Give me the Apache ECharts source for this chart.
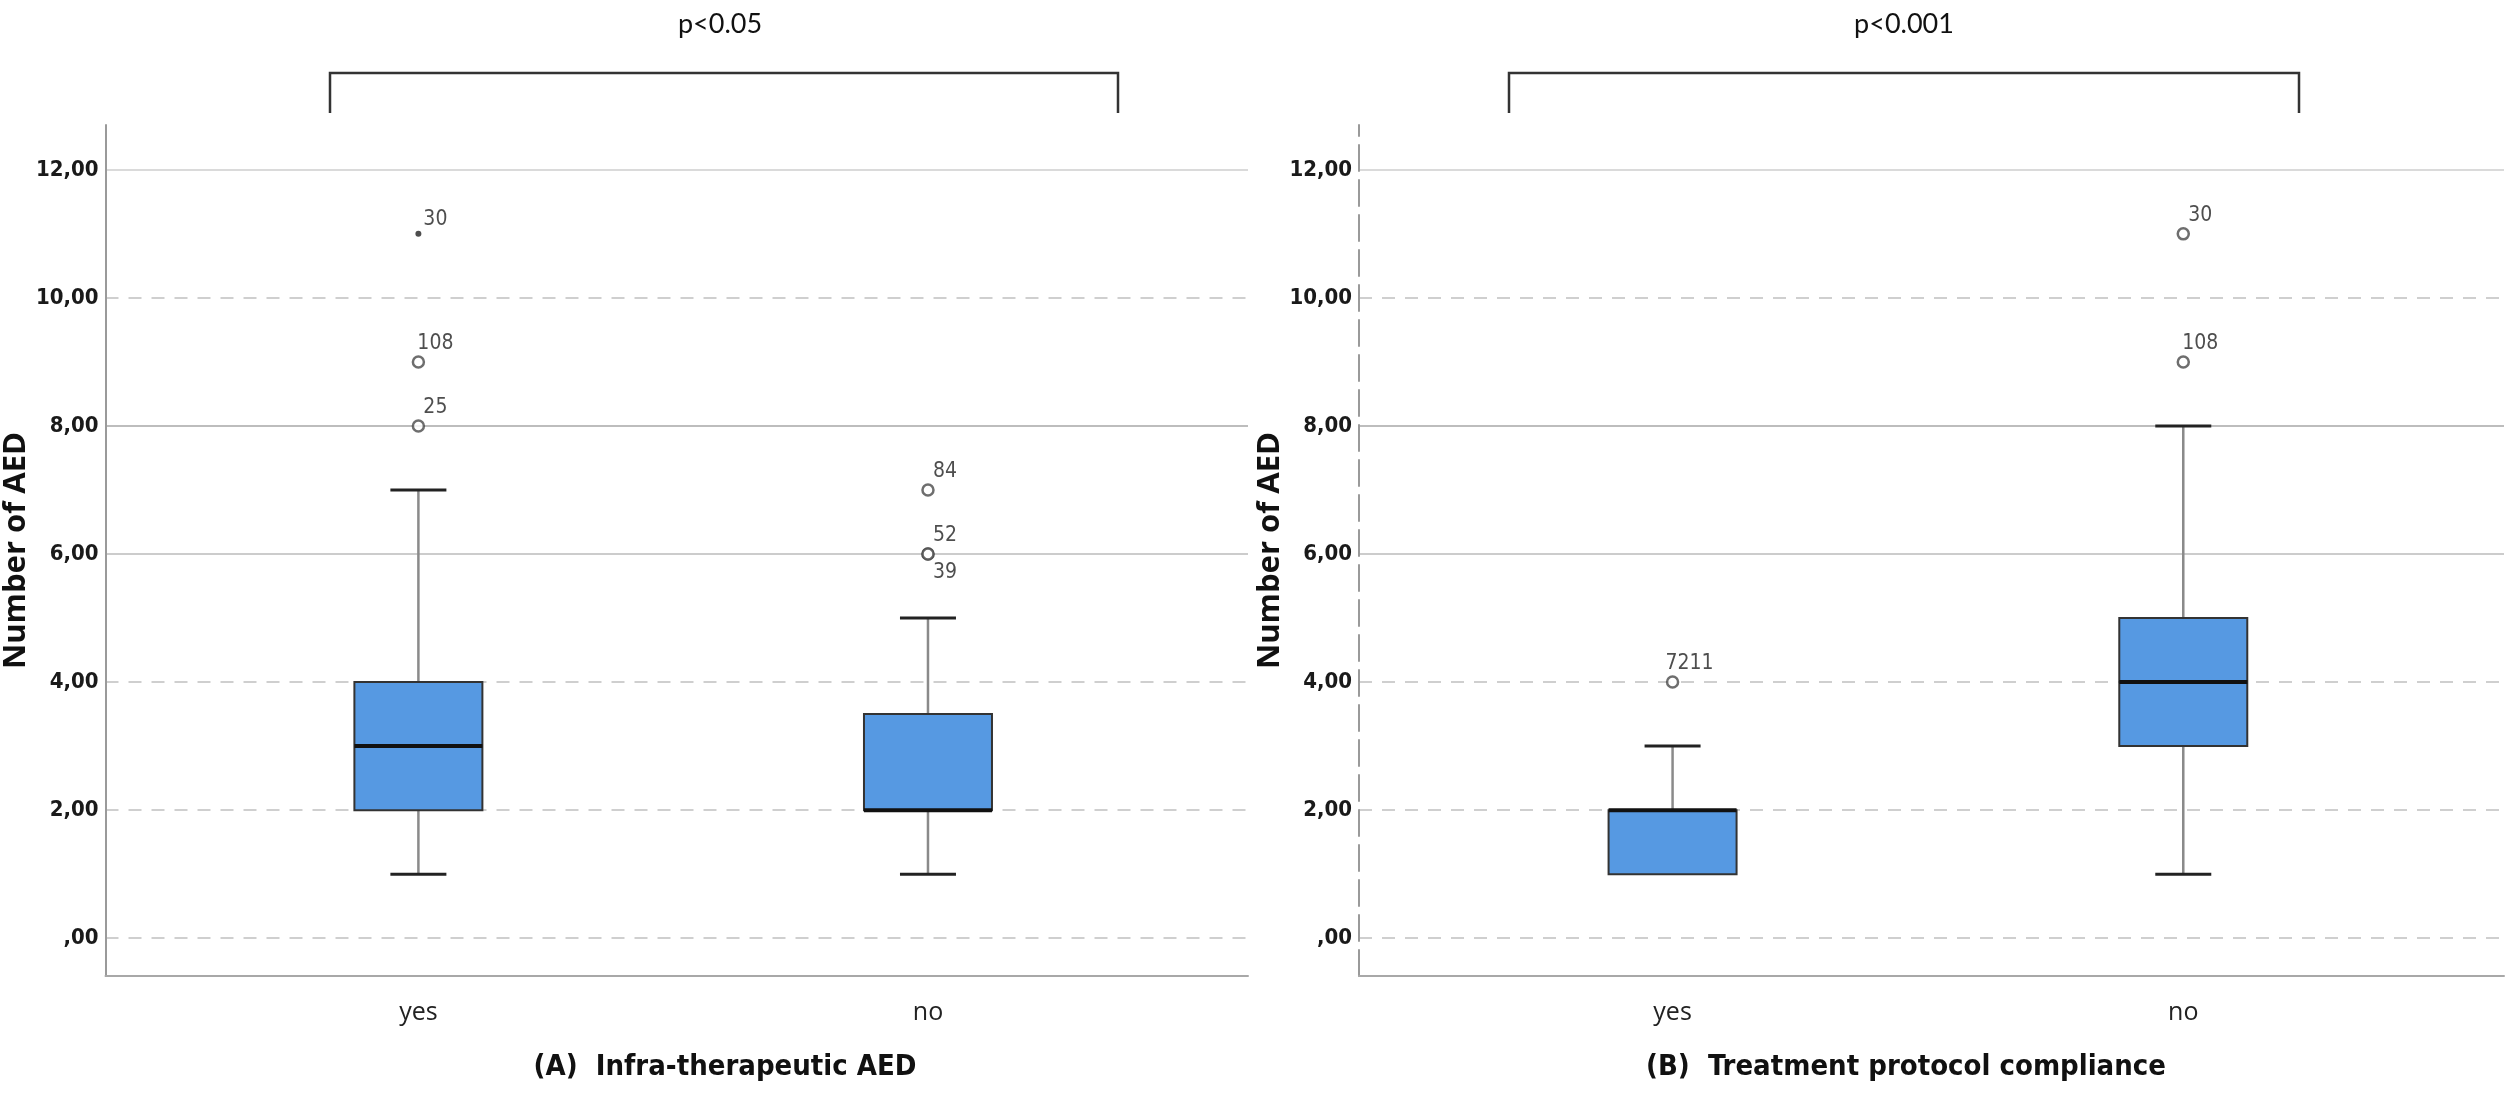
<!DOCTYPE html>
<html>
<head>
<meta charset="utf-8">
<script src="https://cdn.jsdelivr.net/npm/echarts@6/dist/echarts.min.js"></script>
<style>html,body{margin:0;padding:0;background:#fff}#c{width:2507px;height:1096px}</style>
</head>
<body>
<div id="c"></div>
<script>
// ---- data ----
const categories = ['yes', 'no'];
// [min, Q1, median, Q3, max]
const boxA = [[1, 2, 3, 4, 7], [1, 2, 2, 3.5, 5]];
const boxB = [[1, 1, 2, 2, 3], [1, 3, 4, 5, 8]];
// [category index, value, case label]
const outliersA = [[0, 8, '25'], [0, 9, '108'], [0, 11, '30'], [1, 6, '52'], [1, 6, '39'], [1, 7, '84']];
const outliersB = [[0, 4, '7211'], [1, 9, '108'], [1, 11, '30']];
const yTicks = [0, 2, 4, 6, 8, 10, 12];
const yTickLabels = [',00', '2,00', '4,00', '6,00', '8,00', '10,00', '12,00'];
const pValues = ['p<0.05', 'p<0.001'];
const captions = ['(A)  Infra-therapeutic AED', '(B)  Treatment protocol compliance'];
const yAxisTitle = 'Number of AED';

// ---- styling helpers ----
const NARROW = "'Liberation Sans Narrow','DejaVu Sans Condensed',sans-serif";
const gridTypes = ['dashed', 'dashed', 'dashed', 'solid', 'solid', 'dashed', 'solid'];
const gridColors = ['#cfcfcf', '#cfcfcf', '#cfcfcf', '#cccccc', '#bdbdbd', '#cfcfcf', '#dadada'];

function boxRenderer(params, api) {
  const i = api.value(0);
  const mn = api.value(1), q1 = api.value(2), md = api.value(3), q3 = api.value(4), mx = api.value(5);
  const X = api.coord([i, md])[0];
  const Y = v => api.coord([i, v])[1];
  const hw = 64, cap = 28;
  const ch = [];
  if (mx > q3) ch.push({type: 'line', shape: {x1: X, y1: Y(mx), x2: X, y2: Y(q3)}, style: {stroke: '#8a8a8a', lineWidth: 2.5}});
  if (mn < q1) ch.push({type: 'line', shape: {x1: X, y1: Y(q1), x2: X, y2: Y(mn)}, style: {stroke: '#8a8a8a', lineWidth: 2.5}});
  if (mx > q3) ch.push({type: 'line', shape: {x1: X - cap, y1: Y(mx), x2: X + cap, y2: Y(mx)}, style: {stroke: '#222', lineWidth: 3}});
  if (mn < q1) ch.push({type: 'line', shape: {x1: X - cap, y1: Y(mn), x2: X + cap, y2: Y(mn)}, style: {stroke: '#222', lineWidth: 3}});
  ch.push({type: 'rect', shape: {x: X - hw, y: Y(q3), width: 2 * hw, height: Y(q1) - Y(q3)}, style: {fill: '#5699e2', stroke: '#333', lineWidth: 2}});
  ch.push({type: 'line', shape: {x1: X - hw, y1: Y(md), x2: X + hw, y2: Y(md)}, style: {stroke: '#111', lineWidth: 4}});
  return {type: 'group', children: ch};
}

function outlierData(outs, boxes) {
  const seen = {};
  return outs.map(o => {
    const b = boxes[o[0]];
    const iqr = b[3] - b[1];
    const extreme = o[1] > b[3] + 3 * iqr;
    const key = o[0] + '_' + o[1];
    const below = !!seen[key];
    seen[key] = true;
    const item = {value: [o[0], o[1]], name: o[2],
      label: {show: true, formatter: o[2], position: below ? 'bottom' : 'top', distance: 1, offset: [17, 0],
        fontSize: 21, color: '#222', fontFamily: NARROW}};
    if (extreme) {
      item.symbol = 'circle'; item.symbolSize = 6;
      item.itemStyle = {color: '#222', borderWidth: 0};
    }
    return item;
  });
}

function gridMarkLines() {
  return {
    silent: true, z: 0, symbol: ['none', 'none'], label: {show: false},
    data: yTicks.map((v, k) => ({yAxis: v, lineStyle: {type: gridTypes[k] === 'dashed' ? [13, 10] : 'solid', color: gridColors[k], width: 2}}))
  };
}

const grids = [
  {left: 104, top: 125, width: 1144, height: 851},
  {left: 1359, top: 125, width: 1145, height: 851}
];

const xAxes = [0, 1].map(g => ({
  gridIndex: g, type: 'value', min: -0.614, max: 1.628,
  axisLine: {show: true, onZero: false, lineStyle: {color: '#a8a8a8', width: 2}},
  axisTick: {show: false}, splitLine: {show: false},
  axisLabel: {customValues: [0, 1], formatter: v => categories[Math.round(v)], margin: 24,
    fontSize: 25, color: '#222', fontFamily: "'Open Sans',sans-serif"}
}));

const yAxes = [0, 1].map(g => ({
  gridIndex: g, type: 'value', min: -0.59, max: 12.7,
  axisLine: {show: true, onZero: false, lineStyle: {color: '#9a9a9a', width: 2, type: g === 1 ? [26, 9] : 'solid'}},
  axisTick: {show: false}, splitLine: {show: false},
  axisLabel: {customValues: yTicks, formatter: v => yTickLabels[yTicks.indexOf(v)], margin: 7,
    fontSize: 22, fontWeight: 'bold', color: '#1a1a1a', fontFamily: NARROW},
  name: yAxisTitle, nameLocation: 'middle', nameGap: 56,
  nameTextStyle: {fontSize: 31, fontWeight: 'bold', color: '#111', fontFamily: "'Open Sans',sans-serif"}
}));

const series = [];
[[boxA, outliersA], [boxB, outliersB]].forEach((pair, g) => {
  series.push({
    type: 'scatter', xAxisIndex: g, yAxisIndex: g, z: 1,
    symbol: 'circle', symbolSize: 11,
    itemStyle: {color: '#ffffff', borderColor: '#4a4a4a', borderWidth: 2.5},
    data: outlierData(pair[1], pair[0]),
    markLine: gridMarkLines()
  });
  series.push({
    type: 'custom', xAxisIndex: g, yAxisIndex: g, z: 6,
    renderItem: boxRenderer,
    encode: {x: 0, y: [1, 2, 3, 4, 5]},
    data: pair[0].map((b, i) => [i].concat(b))
  });
});

const bracketX = [[330, 1118], [1509, 2299]];
const textX = [720, 1904];
const captionX = [725, 1906];
const graphic = [];
[0, 1].forEach(g => {
  graphic.push({type: 'polyline', shape: {points: [[bracketX[g][0], 113], [bracketX[g][0], 73], [bracketX[g][1], 73], [bracketX[g][1], 113]]},
    style: {stroke: '#333', lineWidth: 2.5, fill: null}});
  graphic.push({type: 'text', x: textX[g], y: 24, style: {text: pValues[g], align: 'center', verticalAlign: 'middle',
    fontSize: 27, fontFamily: "Lato,'Open Sans',sans-serif", fill: '#111'}});
  graphic.push({type: 'text', x: captionX[g], y: 1067, style: {text: captions[g], align: 'center', verticalAlign: 'middle',
    fontSize: 29, fontWeight: 'bold', fontFamily: NARROW, fill: '#111'}});
});

const chart = echarts.init(document.getElementById('c'));
chart.setOption({
  animation: false,
  backgroundColor: '#ffffff',
  grid: grids, xAxis: xAxes, yAxis: yAxes, series: series, graphic: graphic
});
</script>
</body>
</html>
